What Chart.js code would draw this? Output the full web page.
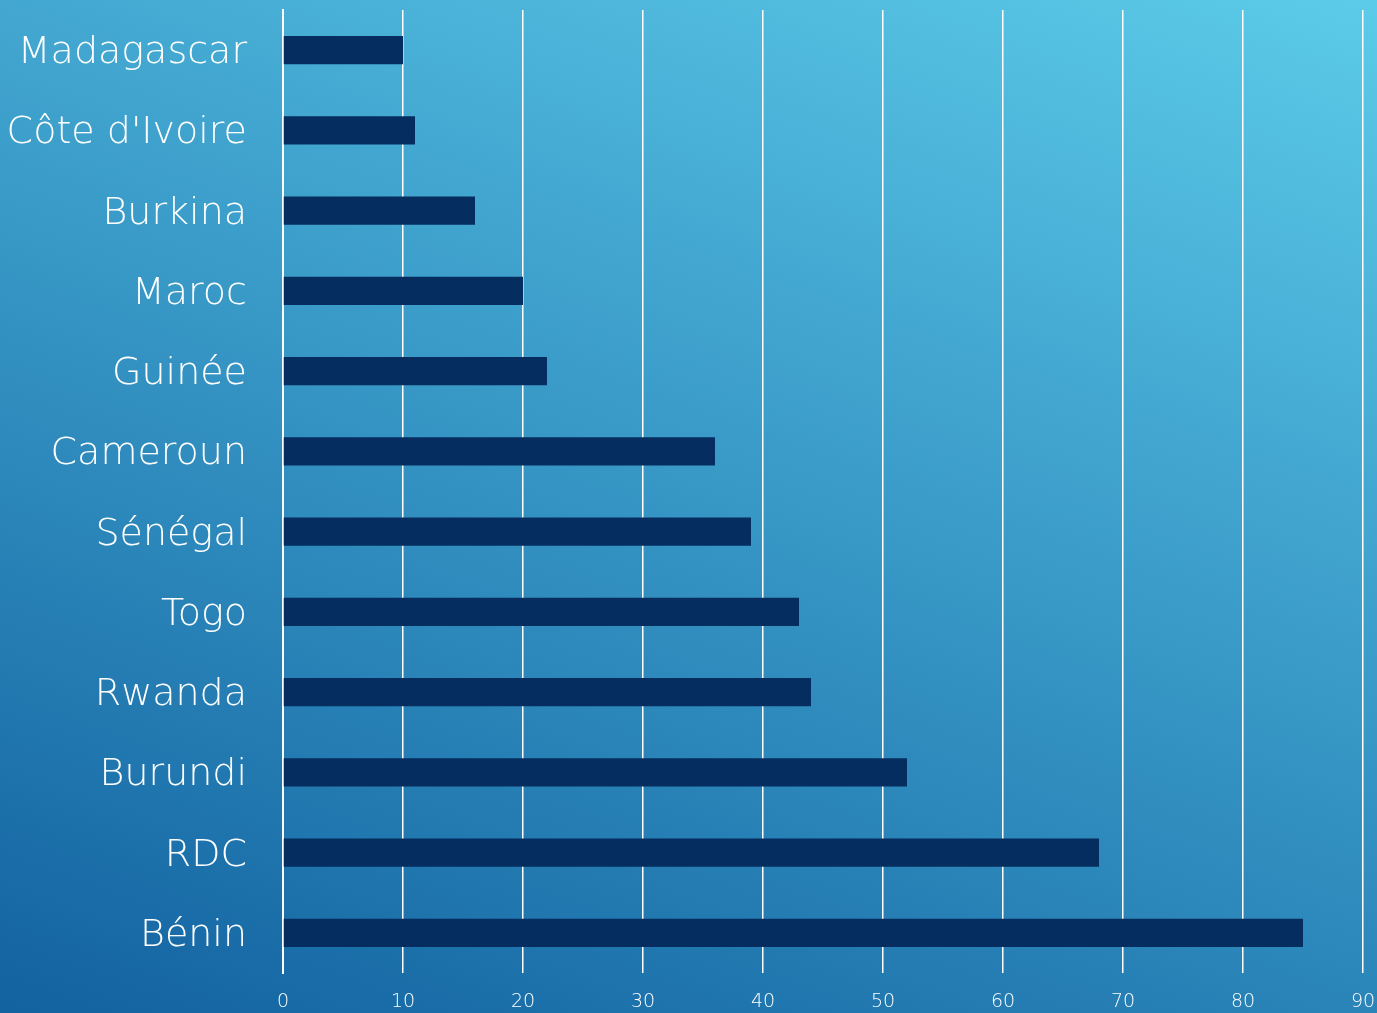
<!DOCTYPE html>
<html>
<head>
<meta charset="utf-8">
<script src="https://cdn.jsdelivr.net/npm/chart.js@4.4.0/dist/chart.umd.min.js"></script>
<style>
  html, body { margin: 0; padding: 0; }
  body {
    width: 1377px; height: 1013px; overflow: hidden;
    background: linear-gradient(200deg, #5ccbe9 0%, #3a9bc8 45%, #1262a0 100%);
  }
  #wrap { width: 1377px; height: 1013px; }
</style>
</head>
<body>
<div id="wrap"><canvas id="barChart"></canvas></div>
<script>
const countries = ['Madagascar', "Côte d'Ivoire", 'Burkina', 'Maroc', 'Guinée', 'Cameroun',
                   'Sénégal', 'Togo', 'Rwanda', 'Burundi', 'RDC', 'Bénin'];
const values = [10, 11, 16, 20, 22, 36, 39, 43, 44, 52, 68, 85];
const xMin = 0;
const xMax = 90;
const xStep = 10;

const ctx = document.getElementById('barChart').getContext('2d');

// tick padding is added to the axis' outer padding in Chart.js, so the gap
// between labels and plot is made with invisible tick marks instead
const barChart = new Chart(ctx, {
    type: 'bar',
    data: {
        labels: countries,
        datasets: [{
            data: values,
            backgroundColor: '#052d5f',
            borderWidth: 0,
            barPercentage: 0.35,
            categoryPercentage: 1
        }]
    },
    options: {
        indexAxis: 'y',
        responsive: true,
        maintainAspectRatio: false,
        animation: false,
        layout: { padding: { top: 10, right: 14, left: 0, bottom: 0 } },
        plugins: {
            legend: { display: false },
            tooltip: { enabled: false }
        },
        scales: {
            x: {
                min: xMin,
                max: xMax,
                ticks: {
                    stepSize: xStep,
                    color: '#ffffff',
                    padding: 0,
                    font: { family: 'DejaVu Sans', weight: 200, size: 19 }
                },
                grid: { color: '#ffffff', lineWidth: 1.5, drawTicks: true, tickLength: 18, tickColor: 'transparent' },
                border: { display: false },
                afterFit: function(scale) { scale.height = 40; }
            },
            y: {
                ticks: {
                    color: '#ffffff',
                    padding: 0,
                    labelOffset: 3,
                    font: { family: 'DejaVu Sans', weight: 200, size: 38, lineHeight: 0.5 }
                },
                grid: { display: true, drawOnChartArea: false, drawTicks: true, tickLength: 36, tickColor: 'transparent' },
                border: { color: '#ffffff', width: 2 },
                afterFit: function(scale) { scale.width = 283; }
            }
        }
    }
});
</script>
</body>
</html>
